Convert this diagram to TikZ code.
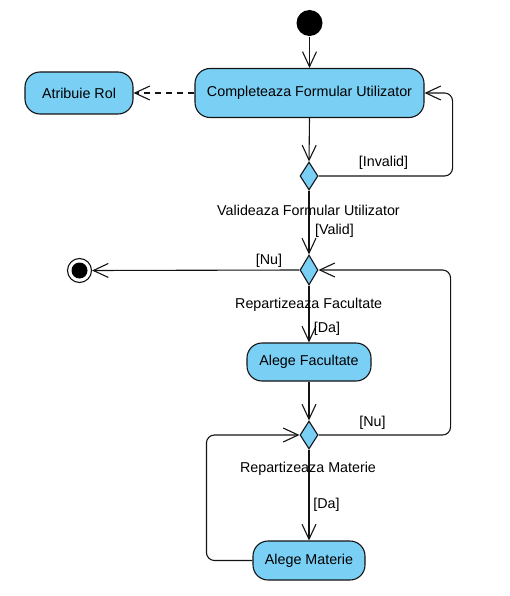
\documentclass[tikz,border=0pt]{standalone}
\usepackage{fontspec}
\setmainfont{Liberation Sans}
\usetikzlibrary{arrows.meta,shapes.geometric}
\definecolor{actfill}{RGB}{122,207,245}
\definecolor{stroke}{RGB}{20,20,20}
\begin{document}
\begin{tikzpicture}[x=1pt,y=-1pt,
  line width=1.1pt,
  every node/.style={font=\fontsize{14.3}{16}\selectfont},
  act/.style={draw=stroke,fill=actfill,rounded corners=15pt,inner sep=0pt},
  dec/.style={draw=stroke,fill=actfill,diamond,inner sep=0pt,minimum width=18pt,minimum height=28pt},
  arr/.style={draw=stroke,-{Straight Barb[length=15pt,width=14pt,line width=1.1pt]}},
  lbl/.style={inner sep=0pt,text=black}
]
\useasboundingbox (0,0) rectangle (510,596);
% start
\node[circle,fill=black,minimum size=26pt,inner sep=0pt] (start) at (309.5,23) {};
% activities
\node[act,minimum width=229pt,minimum height=49pt] (comp) at (309.5,93) {Completeaza Formular Utilizator};
\node[act,minimum width=108pt,minimum height=42pt] (atr) at (79,93) {Atribuie Rol};
\node[act,minimum width=124pt,minimum height=38pt] (fac) at (309,362) {Alege Facultate};
\node[act,minimum width=112pt,minimum height=39pt] (mat) at (309,560.5) {Alege Materie};
% decisions
\node[dec] (d1) at (309,176) {};
\node[dec,minimum height=30pt] (d2) at (309,270) {};
\node[dec] (d3) at (309,435) {};
% end
\node[circle,draw=stroke,fill=white,minimum size=24pt,inner sep=0pt] (end) at (79.5,270.5) {};
\node[circle,fill=black,minimum size=16pt,inner sep=0pt] (endin) at (end.center) {};
% connectors
\draw[arr] (start) -- (comp.north);
\draw[arr,dashed,dash pattern=on 6pt off 5pt] (comp.west) -- (atr.east);
\draw[arr] (comp.south) -- (d1.north);
\draw[arr,rounded corners=8pt] (d1.east) -| ([xshift=28pt]comp.east) -- (comp.east);
\draw[arr] (d1.south) -- (d2.north);
\draw[arr] (d2.west) -- (end.east);
\draw[arr] (d2.south) -- (fac.north);
\draw[arr] (fac.south) -- (d3.north);
\draw[arr,rounded corners=8pt] (d3.east) -| ([xshift=132pt]d2.east) -- (d2.east);
\draw[arr] (d3.south) -- (mat.north);
\draw[arr,rounded corners=8pt] (mat.west) -| ([xshift=-93pt]d3.west) -- (d3.west);
% labels
\node[lbl] (linv) at (383.5,163) {[Invalid]};
\node[lbl] (lval) at (308.5,210.5) {Valideaza Formular Utilizator};
\node[lbl] (lvd) at (334.5,230.5) {[Valid]};
\node[lbl] (lnu1) at (269,260.5) {[Nu]};
\node[lbl] (lrf) at (308.7,305) {Repartizeaza Facultate};
\node[lbl] (lda1) at (327,328.5) {[Da]};
\node[lbl] (lnu2) at (372.5,423) {[Nu]};
\node[lbl] (lrm) at (308,469) {Repartizeaza Materie};
\node[lbl] (lda2) at (326.5,505) {[Da]};
\end{tikzpicture}
\end{document}
